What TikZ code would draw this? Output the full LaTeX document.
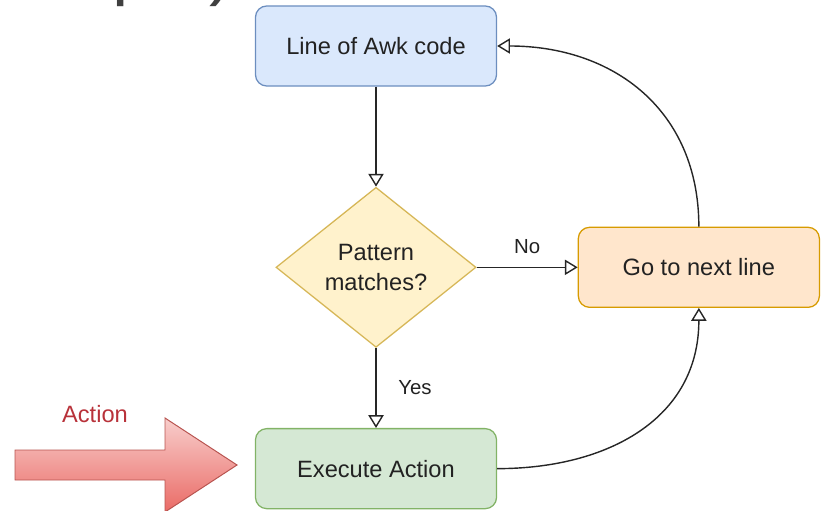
\documentclass[tikz,border=0pt]{standalone}
\usepackage{fontspec}
\setmainfont{Liberation Sans}
\usetikzlibrary{shapes.geometric, arrows.meta, positioning}
\usepackage{xcolor}

\definecolor{bluefill}{HTML}{DAE8FC}
\definecolor{bluedraw}{HTML}{6C8EBF}
\definecolor{yelfill}{HTML}{FFF2CC}
\definecolor{yeldraw}{HTML}{D6B656}
\definecolor{orafill}{HTML}{FFE6CC}
\definecolor{oradraw}{HTML}{D79B00}
\definecolor{grnfill}{HTML}{D5E8D4}
\definecolor{grndraw}{HTML}{82B366}
\definecolor{redlight}{HTML}{F8CECC}
\definecolor{reddark}{HTML}{EA6B66}
\definecolor{reddraw}{HTML}{B85450}
\definecolor{actred}{HTML}{B8323A}
\definecolor{txt}{HTML}{222222}

\begin{document}
\begin{tikzpicture}[
  x=0.025cm, y=-0.025cm,
  node distance=2.5cm,
  >={Triangle[open, length=0.32cm, width=0.38cm]},
  base/.style={
    rectangle, draw, align=center,
    minimum width=6.025cm, minimum height=2.0cm,
    rounded corners=8pt,
    line width=0.9pt, text=txt,
    font=\fontsize{16.8}{20}\selectfont
  },
  linebox/.style={base, draw=bluedraw, fill=bluefill},
  nextbox/.style={base, draw=oradraw, fill=orafill},
  execbox/.style={base, draw=grndraw, fill=grnfill},
  decision/.style={
    diamond, draw=yeldraw, fill=yelfill, align=center,
    minimum width=5cm, minimum height=4cm, inner sep=0pt,
    line width=0.9pt, text=txt,
    font=\fontsize{16.8}{21}\selectfont
  },
  lbl/.style={text=txt, font=\fontsize{14.5}{17}\selectfont},
  arrow/.style={->, line width=1pt, black!85}
]
\useasboundingbox (0,0) rectangle (821,511);

%% Cut-off heading at the top edge
\begin{scope}
  \clip (0,0) rectangle (821,511);
  \node[anchor=south west, inner sep=0pt, text=black!75,
        font=\fontsize{52}{60}\selectfont] (heading) at (112,7) {ple)};
\end{scope}

%% Main flow
\node[linebox] (line) at (376,46) {Line of Awk code};

\node[decision, below=2.5cm of line] (cond) {Pattern\\matches?};

\node[nextbox, right=2.525cm of cond] (next) {Go to next line};

\node[execbox, below=2cm of cond] (exec) {Execute Action};

%% Action block arrow
\draw[reddraw, line width=0.7pt, top color=redlight, bottom color=reddark]
  (15,450) -- (165,450) -- (165,418) -- (237,465) -- (165,512)
  -- (165,480) -- (15,480) -- cycle;
\node[text=actred, font=\fontsize{16.8}{20}\selectfont] (action) at (95,414) {Action};

%% --- Arrows ---
\draw[arrow] (line) -- (cond);
\draw[arrow] (cond) -- node[lbl, above=6pt, pos=0.5] (no) {No} (next);
\draw[arrow] (cond) -- node[lbl, right=12pt, pos=0.5] (yes) {Yes} (exec);

\draw[arrow] (exec.east) to[out=0, in=-90, looseness=1.1] (next.south);
\draw[arrow] (next.north) to[out=90, in=0, looseness=1.1] (line.east);

\end{tikzpicture}
\end{document}
